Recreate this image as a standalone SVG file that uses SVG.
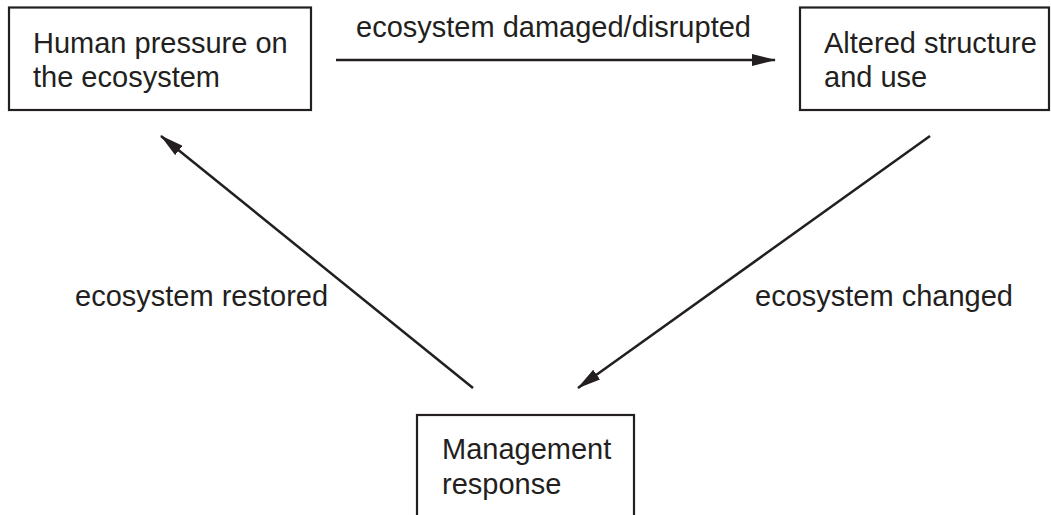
<svg xmlns="http://www.w3.org/2000/svg" width="1051" height="515" viewBox="0 0 1051 515">
<style>
.box{fill:#fff;stroke:#231f20;stroke-width:2.2}
.t{font-family:"Liberation Sans",Arial,sans-serif;font-size:29px;fill:#231f20}
.c{stroke:#231f20;stroke-width:2.5;fill:none;marker-end:url(#ah)}
</style>
<defs>
<marker id="ah" viewBox="0 0 24 12" refX="23" refY="6" markerWidth="24" markerHeight="12" markerUnits="userSpaceOnUse" orient="auto">
<path d="M0,0 L24,6 L0,12 Z" fill="#231f20"/>
</marker>
</defs>
<rect width="1051" height="515" fill="#fff"/>
<g id="node-human">
<rect class="box" x="9" y="7.5" width="302" height="102.5"/>
<text class="t" x="33" y="53">Human pressure on</text>
<text class="t" x="33" y="87">the ecosystem</text>
</g>
<g id="node-altered">
<rect class="box" x="800" y="7.5" width="249" height="102.5"/>
<text class="t" x="824" y="53">Altered structure</text>
<text class="t" x="824" y="87">and use</text>
</g>
<g id="node-management">
<rect class="box" x="417" y="415" width="217" height="110"/>
<text class="t" x="442" y="459">Management</text>
<text class="t" x="442" y="494">response</text>
</g>
<g id="connectors">
<line class="c" x1="336" y1="60" x2="775" y2="60"/>
<line class="c" x1="930" y1="136" x2="578" y2="388"/>
<line class="c" x1="473" y1="388" x2="161" y2="136"/>
</g>
<g id="labels">
<text class="t" x="356" y="37">ecosystem damaged/disrupted</text>
<text class="t" x="75" y="306">ecosystem restored</text>
<text class="t" x="755" y="306">ecosystem changed</text>
</g>
</svg>
